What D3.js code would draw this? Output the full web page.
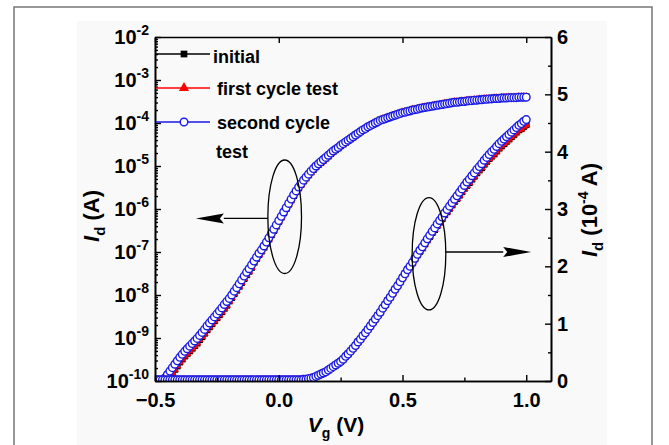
<!DOCTYPE html>
<html>
<head>
<meta charset="utf-8">
<script src="https://cdn.jsdelivr.net/npm/d3@7"></script>
<style>
  body { margin: 0; background: #fff; }
  text { font-family: Arial, "Liberation Sans", sans-serif; font-weight: bold; fill: #000; }
</style>
</head>
<body>
<div id="chart"></div>
<script>
// gate voltage sweep (V)
const vg = [
  -0.50,-0.49,-0.48,-0.47,-0.46,-0.45,-0.44,-0.43,-0.42,-0.41,
  -0.40,-0.39,-0.38,-0.37,-0.36,-0.35,-0.34,-0.33,-0.32,-0.31,
  -0.30,-0.29,-0.28,-0.27,-0.26,-0.25,-0.24,-0.23,-0.22,-0.21,
  -0.20,-0.19,-0.18,-0.17,-0.16,-0.15,-0.14,-0.13,-0.12,-0.11,
  -0.10,-0.09,-0.08,-0.07,-0.06,-0.05,-0.04,-0.03,-0.02,-0.01,
  0.00,0.01,0.02,0.03,0.04,0.05,0.06,0.07,0.08,0.09,
  0.10,0.11,0.12,0.13,0.14,0.15,0.16,0.17,0.18,0.19,
  0.20,0.21,0.22,0.23,0.24,0.25,0.26,0.27,0.28,0.29,
  0.30,0.31,0.32,0.33,0.34,0.35,0.36,0.37,0.38,0.39,
  0.40,0.41,0.42,0.43,0.44,0.45,0.46,0.47,0.48,0.49,
  0.50,0.51,0.52,0.53,0.54,0.55,0.56,0.57,0.58,0.59,
  0.60,0.61,0.62,0.63,0.64,0.65,0.66,0.67,0.68,0.69,
  0.70,0.71,0.72,0.73,0.74,0.75,0.76,0.77,0.78,0.79,
  0.80,0.81,0.82,0.83,0.84,0.85,0.86,0.87,0.88,0.89,
  0.90,0.91,0.92,0.93,0.94,0.95,0.96,0.97,0.98,0.99,
  1.00
];

// log10(Id / A), left axis (null = below 1e-10)
const firstLogId = [
  null,null,null,null,null,-10.01,-9.89,-9.81,-9.73,-9.65,
  -9.56,-9.49,-9.42,-9.36,-9.30,-9.24,-9.18,-9.12,-9.04,-8.97,
  -8.89,-8.81,-8.74,-8.67,-8.60,-8.53,-8.46,-8.39,-8.31,-8.24,
  -8.14,-8.06,-7.97,-7.89,-7.80,-7.71,-7.62,-7.53,-7.45,-7.36,
  -7.24,-7.15,-7.06,-6.98,-6.89,-6.80,-6.70,-6.60,-6.50,-6.40,
  -6.29,-6.19,-6.09,-5.99,-5.89,-5.79,-5.69,-5.60,-5.51,-5.43,
  -5.35,-5.28,-5.21,-5.14,-5.08,-5.02,-4.97,-4.92,-4.87,-4.82,
  -4.77,-4.71,-4.66,-4.62,-4.58,-4.53,-4.49,-4.45,-4.41,-4.37,
  -4.33,-4.28,-4.24,-4.20,-4.16,-4.13,-4.09,-4.06,-4.03,-4.00,
  -3.96,-3.93,-3.91,-3.89,-3.87,-3.85,-3.83,-3.81,-3.79,-3.77,
  -3.75,-3.74,-3.72,-3.71,-3.69,-3.68,-3.67,-3.65,-3.64,-3.63,
  -3.62,-3.61,-3.60,-3.59,-3.58,-3.57,-3.56,-3.55,-3.54,-3.53,
  -3.52,-3.51,-3.51,-3.50,-3.49,-3.49,-3.48,-3.47,-3.47,-3.46,
  -3.46,-3.45,-3.45,-3.44,-3.44,-3.43,-3.43,-3.42,-3.42,-3.42,
  -3.41,-3.41,-3.41,-3.40,-3.40,-3.40,-3.40,-3.39,-3.39,-3.39,
  -3.39
];
const secondLogId = [
  null,null,null,-10.02,-9.93,-9.85,-9.77,-9.69,-9.61,-9.53,
  -9.45,-9.38,-9.31,-9.25,-9.19,-9.13,-9.07,-9.01,-8.94,-8.87,
  -8.80,-8.72,-8.65,-8.58,-8.51,-8.44,-8.37,-8.30,-8.22,-8.15,
  -8.08,-8.00,-7.91,-7.83,-7.74,-7.65,-7.56,-7.47,-7.39,-7.30,
  -7.21,-7.12,-7.03,-6.95,-6.86,-6.77,-6.67,-6.57,-6.47,-6.37,
  -6.27,-6.17,-6.07,-5.97,-5.87,-5.77,-5.67,-5.58,-5.49,-5.41,
  -5.33,-5.26,-5.19,-5.12,-5.06,-5.00,-4.95,-4.90,-4.85,-4.80,
  -4.75,-4.70,-4.65,-4.61,-4.57,-4.52,-4.48,-4.44,-4.40,-4.36,
  -4.32,-4.28,-4.24,-4.20,-4.16,-4.13,-4.09,-4.06,-4.03,-4.00,
  -3.97,-3.94,-3.92,-3.90,-3.88,-3.86,-3.84,-3.82,-3.80,-3.78,
  -3.76,-3.75,-3.73,-3.72,-3.70,-3.69,-3.68,-3.66,-3.65,-3.64,
  -3.63,-3.62,-3.61,-3.60,-3.59,-3.58,-3.57,-3.56,-3.55,-3.54,
  -3.53,-3.52,-3.52,-3.51,-3.50,-3.50,-3.49,-3.48,-3.48,-3.47,
  -3.47,-3.46,-3.46,-3.45,-3.45,-3.44,-3.44,-3.43,-3.43,-3.43,
  -3.42,-3.42,-3.42,-3.41,-3.41,-3.41,-3.41,-3.40,-3.40,-3.40,
  -3.40
];
// initial curve lies exactly under the first cycle in the figure
const initialLogId = firstLogId;

// Id in 1e-4 A, right axis
const firstLinId = [
  0.02,0.02,0.02,0.02,0.02,0.02,0.02,0.02,0.02,0.02,
  0.02,0.02,0.02,0.02,0.02,0.02,0.02,0.02,0.02,0.02,
  0.02,0.02,0.02,0.02,0.02,0.02,0.02,0.02,0.02,0.02,
  0.02,0.02,0.02,0.02,0.02,0.02,0.02,0.02,0.02,0.02,
  0.02,0.02,0.02,0.02,0.02,0.02,0.02,0.02,0.02,0.02,
  0.02,0.02,0.02,0.02,0.02,0.02,0.02,0.02,0.02,0.02,
  0.03,0.03,0.04,0.05,0.06,0.08,0.10,0.12,0.14,0.16,
  0.19,0.22,0.25,0.28,0.31,0.34,0.38,0.43,0.47,0.52,
  0.57,0.62,0.68,0.73,0.79,0.84,0.90,0.96,1.02,1.08,
  1.14,1.20,1.27,1.33,1.40,1.46,1.53,1.60,1.66,1.73,
  1.80,1.87,1.94,1.99,2.06,2.13,2.20,2.26,2.32,2.39,
  2.46,2.52,2.59,2.64,2.71,2.77,2.83,2.90,2.95,3.01,
  3.07,3.13,3.18,3.24,3.30,3.36,3.41,3.46,3.52,3.57,
  3.63,3.68,3.72,3.78,3.83,3.88,3.92,3.96,4.01,4.06,
  4.10,4.14,4.18,4.22,4.26,4.30,4.34,4.38,4.40,4.44,
  4.47
];
const secondLinId = [
  0.02,0.02,0.02,0.02,0.02,0.02,0.02,0.02,0.02,0.02,
  0.02,0.02,0.02,0.02,0.02,0.02,0.02,0.02,0.02,0.02,
  0.02,0.02,0.02,0.02,0.02,0.02,0.02,0.02,0.02,0.02,
  0.02,0.02,0.02,0.02,0.02,0.02,0.02,0.02,0.02,0.02,
  0.02,0.02,0.02,0.02,0.02,0.02,0.02,0.02,0.02,0.02,
  0.02,0.02,0.02,0.02,0.02,0.02,0.02,0.02,0.02,0.02,
  0.03,0.03,0.04,0.05,0.06,0.08,0.10,0.12,0.14,0.16,
  0.19,0.22,0.25,0.28,0.31,0.34,0.38,0.43,0.47,0.52,
  0.57,0.62,0.68,0.73,0.79,0.84,0.90,0.96,1.02,1.08,
  1.14,1.20,1.27,1.33,1.40,1.46,1.53,1.60,1.66,1.73,
  1.80,1.87,1.94,2.00,2.07,2.14,2.21,2.28,2.34,2.41,
  2.48,2.54,2.61,2.67,2.74,2.80,2.86,2.93,2.99,3.05,
  3.11,3.17,3.23,3.29,3.35,3.41,3.47,3.52,3.58,3.63,
  3.69,3.74,3.79,3.85,3.90,3.95,4.00,4.04,4.09,4.14,
  4.18,4.22,4.26,4.30,4.34,4.38,4.42,4.46,4.49,4.53,
  4.56
];
const initialLinId = firstLinId;

const legendLabels = ["initial", "first cycle test", "second cycle"];
const xTicks = [-0.5, 0, 0.5, 1.0];
const xMinorTicks = [-0.25, 0.25, 0.75];
const logExps = [-10, -9, -8, -7, -6, -5, -4, -3, -2];
const rightTicks = [0, 1, 2, 3, 4, 5, 6];
const rightMinorTicks = [0.5, 1.5, 2.5, 3.5, 4.5, 5.5];

const W = 669, H = 445;
const svg = d3.select("#chart").append("svg").attr("width", W).attr("height", H);

// page frame
svg.append("rect").attr("x", 14).attr("y", 7).attr("width", 638).attr("height", 460)
  .attr("fill", "#fff").attr("stroke", "#777").attr("stroke-width", 1.5);
svg.append("rect").attr("x", 77).attr("y", 21).attr("width", 530).attr("height", 430)
  .attr("fill", "#f9f9f9");

const x = d3.scaleLinear().domain([-0.5, 1.1]).range([155, 551]);
const yL = d3.scaleLog().domain([1e-10, 1e-2]).range([381, 37]);
const yR = d3.scaleLinear().domain([0, 6]).range([381, 37]);

svg.append("clipPath").attr("id", "clip").append("rect")
  .attr("x", 155).attr("y", 37).attr("width", 396).attr("height", 344);

const plot = svg.append("g").attr("clip-path", "url(#clip)");

const logY = v => yL(Math.pow(10, v));
const linY = v => yR(v);

const styles = {
  initial: { color: "#000", marker: "square" },
  first: { color: "#ff0000", marker: "triangle" },
  second: { color: "#1a1ae6", marker: "circle" }
};

function drawSeries(vals, yFn, st) {
  const pts = vg.map((v, i) => ({ v: v, y: vals[i] })).filter(d => d.y != null);
  const g = plot.append("g");
  g.append("path").datum(pts)
    .attr("d", d3.line().x(d => x(d.v)).y(d => yFn(d.y)))
    .attr("fill", "none").attr("stroke", st.color).attr("stroke-width", 1.2);
  drawMarkers(g, pts.map(d => [x(d.v), yFn(d.y)]), st, false);
}

function drawMarkers(g, xy, st, big) {
  if (st.marker === "circle") {
    g.selectAll(null).data(xy).join("circle")
      .attr("cx", d => d[0]).attr("cy", d => d[1]).attr("r", 3.8)
      .attr("fill", "#fff").attr("stroke", st.color).attr("stroke-width", 1.4);
  } else {
    const sym = st.marker === "square" ? d3.symbolSquare : d3.symbolTriangle;
    const size = st.marker === "square" ? 45 : (big ? 45 : 30);
    g.selectAll(null).data(xy).join("path")
      .attr("transform", d => `translate(${d[0]},${d[1]})`)
      .attr("d", d3.symbol().type(sym).size(size))
      .attr("fill", st.color);
  }
}

// log curves
drawSeries(initialLogId, logY, styles.initial);
drawSeries(firstLogId, logY, styles.first);
drawSeries(secondLogId, logY, styles.second);
// linear curves
drawSeries(initialLinId, linY, styles.initial);
drawSeries(firstLinId, linY, styles.first);
drawSeries(secondLinId, linY, styles.second);

// === Axes ===
function styleAxis(g) {
  g.select(".domain").attr("stroke", "#000").attr("stroke-width", 1.6);
  g.selectAll(".tick line").attr("stroke", "#000").attr("stroke-width", 1.4);
  g.selectAll(".tick text").style("font-size", "20px").style("font-family", "Arial, 'Liberation Sans', sans-serif").style("font-weight", "bold");
}

svg.append("g").attr("transform", "translate(0,381)")
  .call(d3.axisBottom(x).tickValues(xTicks).tickSize(-6).tickSizeOuter(0).tickPadding(12).tickFormat(d3.format(".1f")))
  .call(styleAxis);
svg.append("g").attr("transform", "translate(0,381)")
  .call(d3.axisBottom(x).tickValues(xMinorTicks).tickSize(-3.5).tickSizeOuter(0).tickFormat(""))
  .call(styleAxis);
svg.append("g").attr("transform", "translate(0,37)")
  .call(d3.axisTop(x).tickValues(xTicks).tickSize(-6).tickSizeOuter(0).tickFormat(""))
  .call(styleAxis);

const minorLog = [];
logExps.slice(0, -1).forEach(e => { for (let k = 2; k <= 9; k++) minorLog.push(k * Math.pow(10, e)); });

svg.append("g").attr("transform", "translate(155,0)")
  .call(d3.axisLeft(yL).tickValues(logExps.map(e => Math.pow(10, e))).tickSize(-6).tickSizeOuter(0).tickFormat(""))
  .call(styleAxis);
svg.append("g").attr("transform", "translate(155,0)")
  .call(d3.axisLeft(yL).tickValues(minorLog).tickSize(-3).tickSizeOuter(0).tickFormat(""))
  .call(styleAxis);

svg.append("g").attr("transform", "translate(551,0)")
  .call(d3.axisRight(yR).tickValues(rightTicks).tickSize(-6).tickSizeOuter(0).tickPadding(6).tickFormat(d3.format("d")))
  .call(styleAxis);
svg.append("g").attr("transform", "translate(551,0)")
  .call(d3.axisRight(yR).tickValues(rightMinorTicks).tickSize(-3).tickSizeOuter(0).tickFormat(""))
  .call(styleAxis);

// left tick labels 10^n
const leftLab = svg.append("g");
logExps.forEach(e => {
  const t = leftLab.append("text")
    .attr("x", 149).attr("y", yL(Math.pow(10, e)) + 7)
    .attr("text-anchor", "end").style("font-size", "20px");
  t.append("tspan").text("10");
  t.append("tspan").attr("dy", -9).style("font-size", "14px").text("-" + Math.abs(e));
});

// === Axis titles ===
const xt = svg.append("text").attr("x", 336).attr("y", 432)
  .attr("text-anchor", "middle").style("font-size", "21px");
xt.append("tspan").style("font-style", "italic").text("V");
xt.append("tspan").attr("dy", 6).style("font-size", "14px").text("g");
xt.append("tspan").attr("dy", -6).text(" (V)");

const lt = svg.append("text").attr("transform", "translate(99,216) rotate(-90)")
  .attr("text-anchor", "middle").style("font-size", "22px");
lt.append("tspan").style("font-style", "italic").text("I");
lt.append("tspan").attr("dy", 6).style("font-size", "15px").text("d");
lt.append("tspan").attr("dy", -6).text(" (A)");

const rt = svg.append("text").attr("transform", "translate(597,210) rotate(-90)")
  .attr("text-anchor", "middle").style("font-size", "22px");
rt.append("tspan").style("font-style", "italic").text("I");
rt.append("tspan").attr("dy", 6).style("font-size", "15px").text("d");
rt.append("tspan").attr("dy", -6).text(" (10");
rt.append("tspan").attr("dy", -9).style("font-size", "14px").text("-4");
rt.append("tspan").attr("dy", 9).text(" A)");

// === Legend ===
const legRows = [
  { y: 54, st: styles.initial, tx: 213, ty: 63 },
  { y: 88, st: styles.first, tx: 217, ty: 95 },
  { y: 122, st: styles.second, tx: 217, ty: 129 }
];
const leg = svg.append("g");
legRows.forEach((r, i) => {
  leg.append("line").attr("x1", 156).attr("x2", 210).attr("y1", r.y).attr("y2", r.y)
    .attr("stroke", r.st.color).attr("stroke-width", 1.4);
  drawMarkers(leg.append("g"), [[184, r.y]], r.st, true);
  leg.append("text").attr("x", r.tx).attr("y", r.ty).style("font-size", "18px").text(legendLabels[i]);
});
leg.append("text").attr("x", 216).attr("y", 158).style("font-size", "18px").text("test");

// === Annotations (ellipse + arrow) ===
function annotate(cx, cy, rx, ry, ay, tipX) {
  const g = svg.append("g");
  g.append("ellipse").attr("cx", cx).attr("cy", cy).attr("rx", rx).attr("ry", ry)
    .attr("fill", "none").attr("stroke", "#000").attr("stroke-width", 1.3);
  const dir = tipX < cx ? -1 : 1;
  const startX = cx + dir * rx;
  const baseX = tipX - dir * 28;
  g.append("line").attr("x1", startX).attr("x2", baseX).attr("y1", ay).attr("y2", ay)
    .attr("stroke", "#000").attr("stroke-width", 1.3);
  g.append("path").attr("d", `M${tipX},${ay}L${baseX},${ay - 5}L${baseX + dir * 4},${ay}L${baseX},${ay + 5}Z`)
    .attr("fill", "#000");
}
{
  const cx = x(0.024), cy = logY(-6.18);
  annotate(cx, cy, x(0.092) - cx, logY(-7.5) - cy, logY(-6.22), x(-0.335));
}
{
  const cx = x(0.607), cy = yR(2.22);
  annotate(cx, cy, x(0.675) - cx, yR(1.24) - cy, yR(2.25), x(1.02));
}
</script>
</body>
</html>
